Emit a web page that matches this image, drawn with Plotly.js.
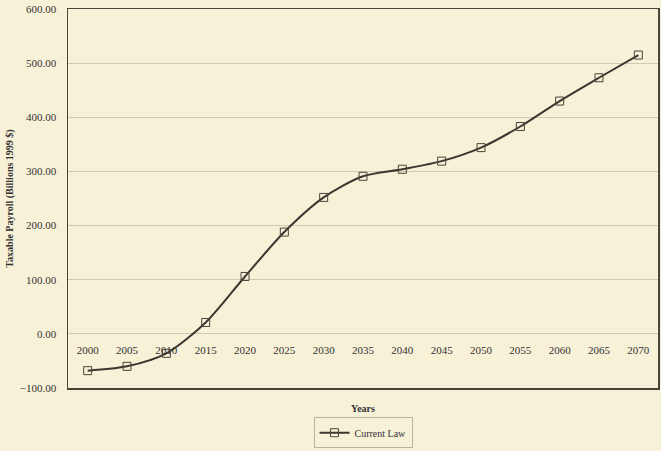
<!DOCTYPE html>
<html>
<head>
<meta charset="utf-8">
<script src="https://cdn.plot.ly/plotly-3.0.1.min.js"></script>
<style>html,body{margin:0;padding:0;background:#f7f1d8;}#chart{width:661px;height:451px;}</style>
</head>
<body>
<div id="chart"></div>
<script>
const years = ["2000","2005","2010","2015","2020","2025","2030","2035","2040","2045","2050","2055","2060","2065","2070"];
const currentLaw = [-68, -60, -36, 21, 106, 188, 252, 291, 304, 319, 344, 383, 430, 473, 515];
const yTicks = [-100, 0, 100, 200, 300, 400, 500, 600];
const seriesName = "Current Law";

const fam = "Liberation Serif, Times New Roman, serif";
const font = {family: fam, size: 11, color: "#333"};

const traces = [
  {
    x: years, y: currentLaw, name: seriesName, type: "scatter", mode: "lines+markers",
    xaxis: "x", yaxis: "y",
    line: {color: "#3d3630", width: 2, shape: "spline", smoothing: 0.8},
    marker: {symbol: "square-open", size: 8, color: "#4a4438", line: {width: 1, color: "#4a4438"}}
  },
  {
    x: years, y: currentLaw, xaxis: "x2", yaxis: "y", type: "scatter", mode: "markers",
    marker: {opacity: 0}, showlegend: false, hoverinfo: "skip"
  }
];

const layout = {
  width: 661, height: 451,
  margin: {l: 68, r: 3, t: 9, b: 60},
  paper_bgcolor: "#f7f1d8", plot_bgcolor: "#f7f1d8",
  font: font,
  showlegend: true,
  legend: {
    orientation: "h", x: 0.5, xanchor: "center", y: -0.118, yanchor: "middle",
    bordercolor: "#b8b4a4", borderwidth: 1, bgcolor: "#f7f1d8",
    itemwidth: 30, tracegroupgap: 0,
    font: {family: fam, size: 10, color: "#333"}
  },
  xaxis: {
    type: "category", categoryarray: years, range: [-0.5, 14.5],
    showline: true, mirror: true, linecolor: "#4a4438", linewidth: 1.5,
    showgrid: false, zeroline: false, ticks: "", showticklabels: false,
    title: {text: "<b>Years</b>", standoff: 16, font: {family: fam, size: 10, color: "#333"}}
  },
  xaxis2: {
    type: "category", categoryarray: years, range: [-0.5, 14.5],
    overlaying: "x", anchor: "free", position: 0.144, side: "bottom",
    showline: false, showgrid: false, zeroline: false, ticks: "",
    ticklabelstandoff: 9,
    tickfont: {family: fam, size: 11, color: "#333"}
  },
  yaxis: {
    range: [-100, 600], tickvals: yTicks, tickformat: ".2f",
    showline: true, mirror: true, linecolor: "#4a4438", linewidth: 1.5,
    showgrid: true, gridcolor: "#cdc9b6", gridwidth: 1, zeroline: false,
    ticks: "", ticklabelstandoff: 8,
    tickfont: {family: fam, size: 11, color: "#333"},
    title: {text: "<b>Taxable Payroll (Billions 1999 $)</b>", standoff: 4, font: {family: fam, size: 10, color: "#333"}}
  }
};

Plotly.newPlot("chart", traces, layout, {displayModeBar: false, staticPlot: true});
</script>
</body>
</html>
